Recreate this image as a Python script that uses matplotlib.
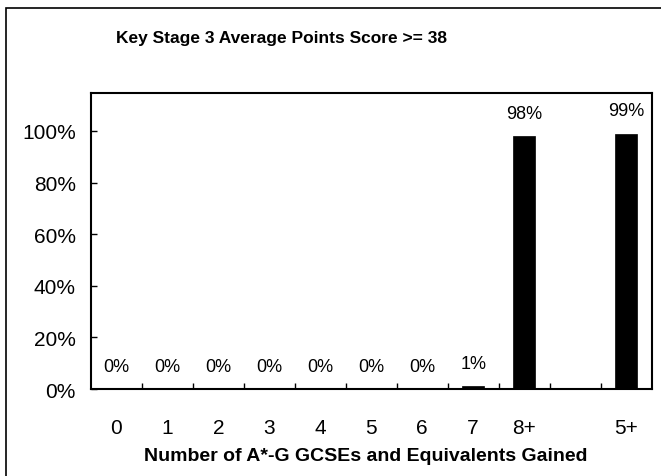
import numpy as np
import matplotlib
matplotlib.use("Agg")
import matplotlib.pyplot as plt
from matplotlib.patches import Rectangle
from matplotlib.ticker import FixedLocator

categories = ['0', '1', '2', '3', '4', '5', '6', '7', '8+', '', '5+']
values = [0, 0, 0, 0, 0, 0, 0, 1, 98, np.nan, 99]
value_labels = ['0%', '0%', '0%', '0%', '0%', '0%', '0%', '1%', '98%', '', '99%']
y_ticks = [0, 20, 40, 60, 80, 100]
y_tick_labels = ['0%', '20%', '40%', '60%', '80%', '100%']
title = 'Key Stage 3 Average Points Score >= 38'
xlabel = 'Number of A*-G GCSEs and Equivalents Gained'

plt.rcParams['font.family'] = ['Liberation Sans', 'DejaVu Sans']

W, H = 661, 477
fig = plt.figure(figsize=(W / 100, H / 100), dpi=100)
ax = fig.add_axes([91 / W, 1 - 390 / H, (651.5 - 91) / W, (390 - 94) / H])

x = np.arange(len(categories))
ax.bar(x, values, width=0.43, color='black', edgecolor='black', linewidth=0.5)

for xi, v, lab in zip(x, values, value_labels):
    if lab and not np.isnan(v):
        ax.annotate(lab, (xi, v), xytext=(0, 16.5), textcoords='offset points',
                    ha='center', va='center', fontsize=13)

ax.set_xlim(-0.5, len(categories) - 0.5)
ax.set_ylim(0, 114.7)
ax.set_yticks(y_ticks)
ax.set_yticklabels(y_tick_labels)
ax.set_xticks(x)
ax.set_xticklabels(categories)
ax.xaxis.set_minor_locator(FixedLocator(np.arange(0.5, len(categories) - 1, 1.0)))

ax.tick_params(axis='y', direction='in', length=4, width=1, pad=11, labelsize=15)
ax.tick_params(axis='x', which='major', length=0, pad=21, labelsize=15)
ax.tick_params(axis='x', which='minor', direction='in', length=4, width=1)
for s in ax.spines.values():
    s.set_linewidth(1.5)
    s.set_color('black')

fig.text(282 / W, 1 - 39 / H, title, ha='center', va='center',
         fontsize=12.5, fontweight='bold')
fig.text(366 / W, 1 - 457 / H, xlabel, ha='center', va='center',
         fontsize=14, fontweight='bold')

fig.add_artist(Rectangle((6 / W, -0.1), 1.2, 1 - 9 / H + 0.1, transform=fig.transFigure,
                         fill=False, edgecolor='black', linewidth=1.2))

fig.savefig('out.png', dpi=100)
